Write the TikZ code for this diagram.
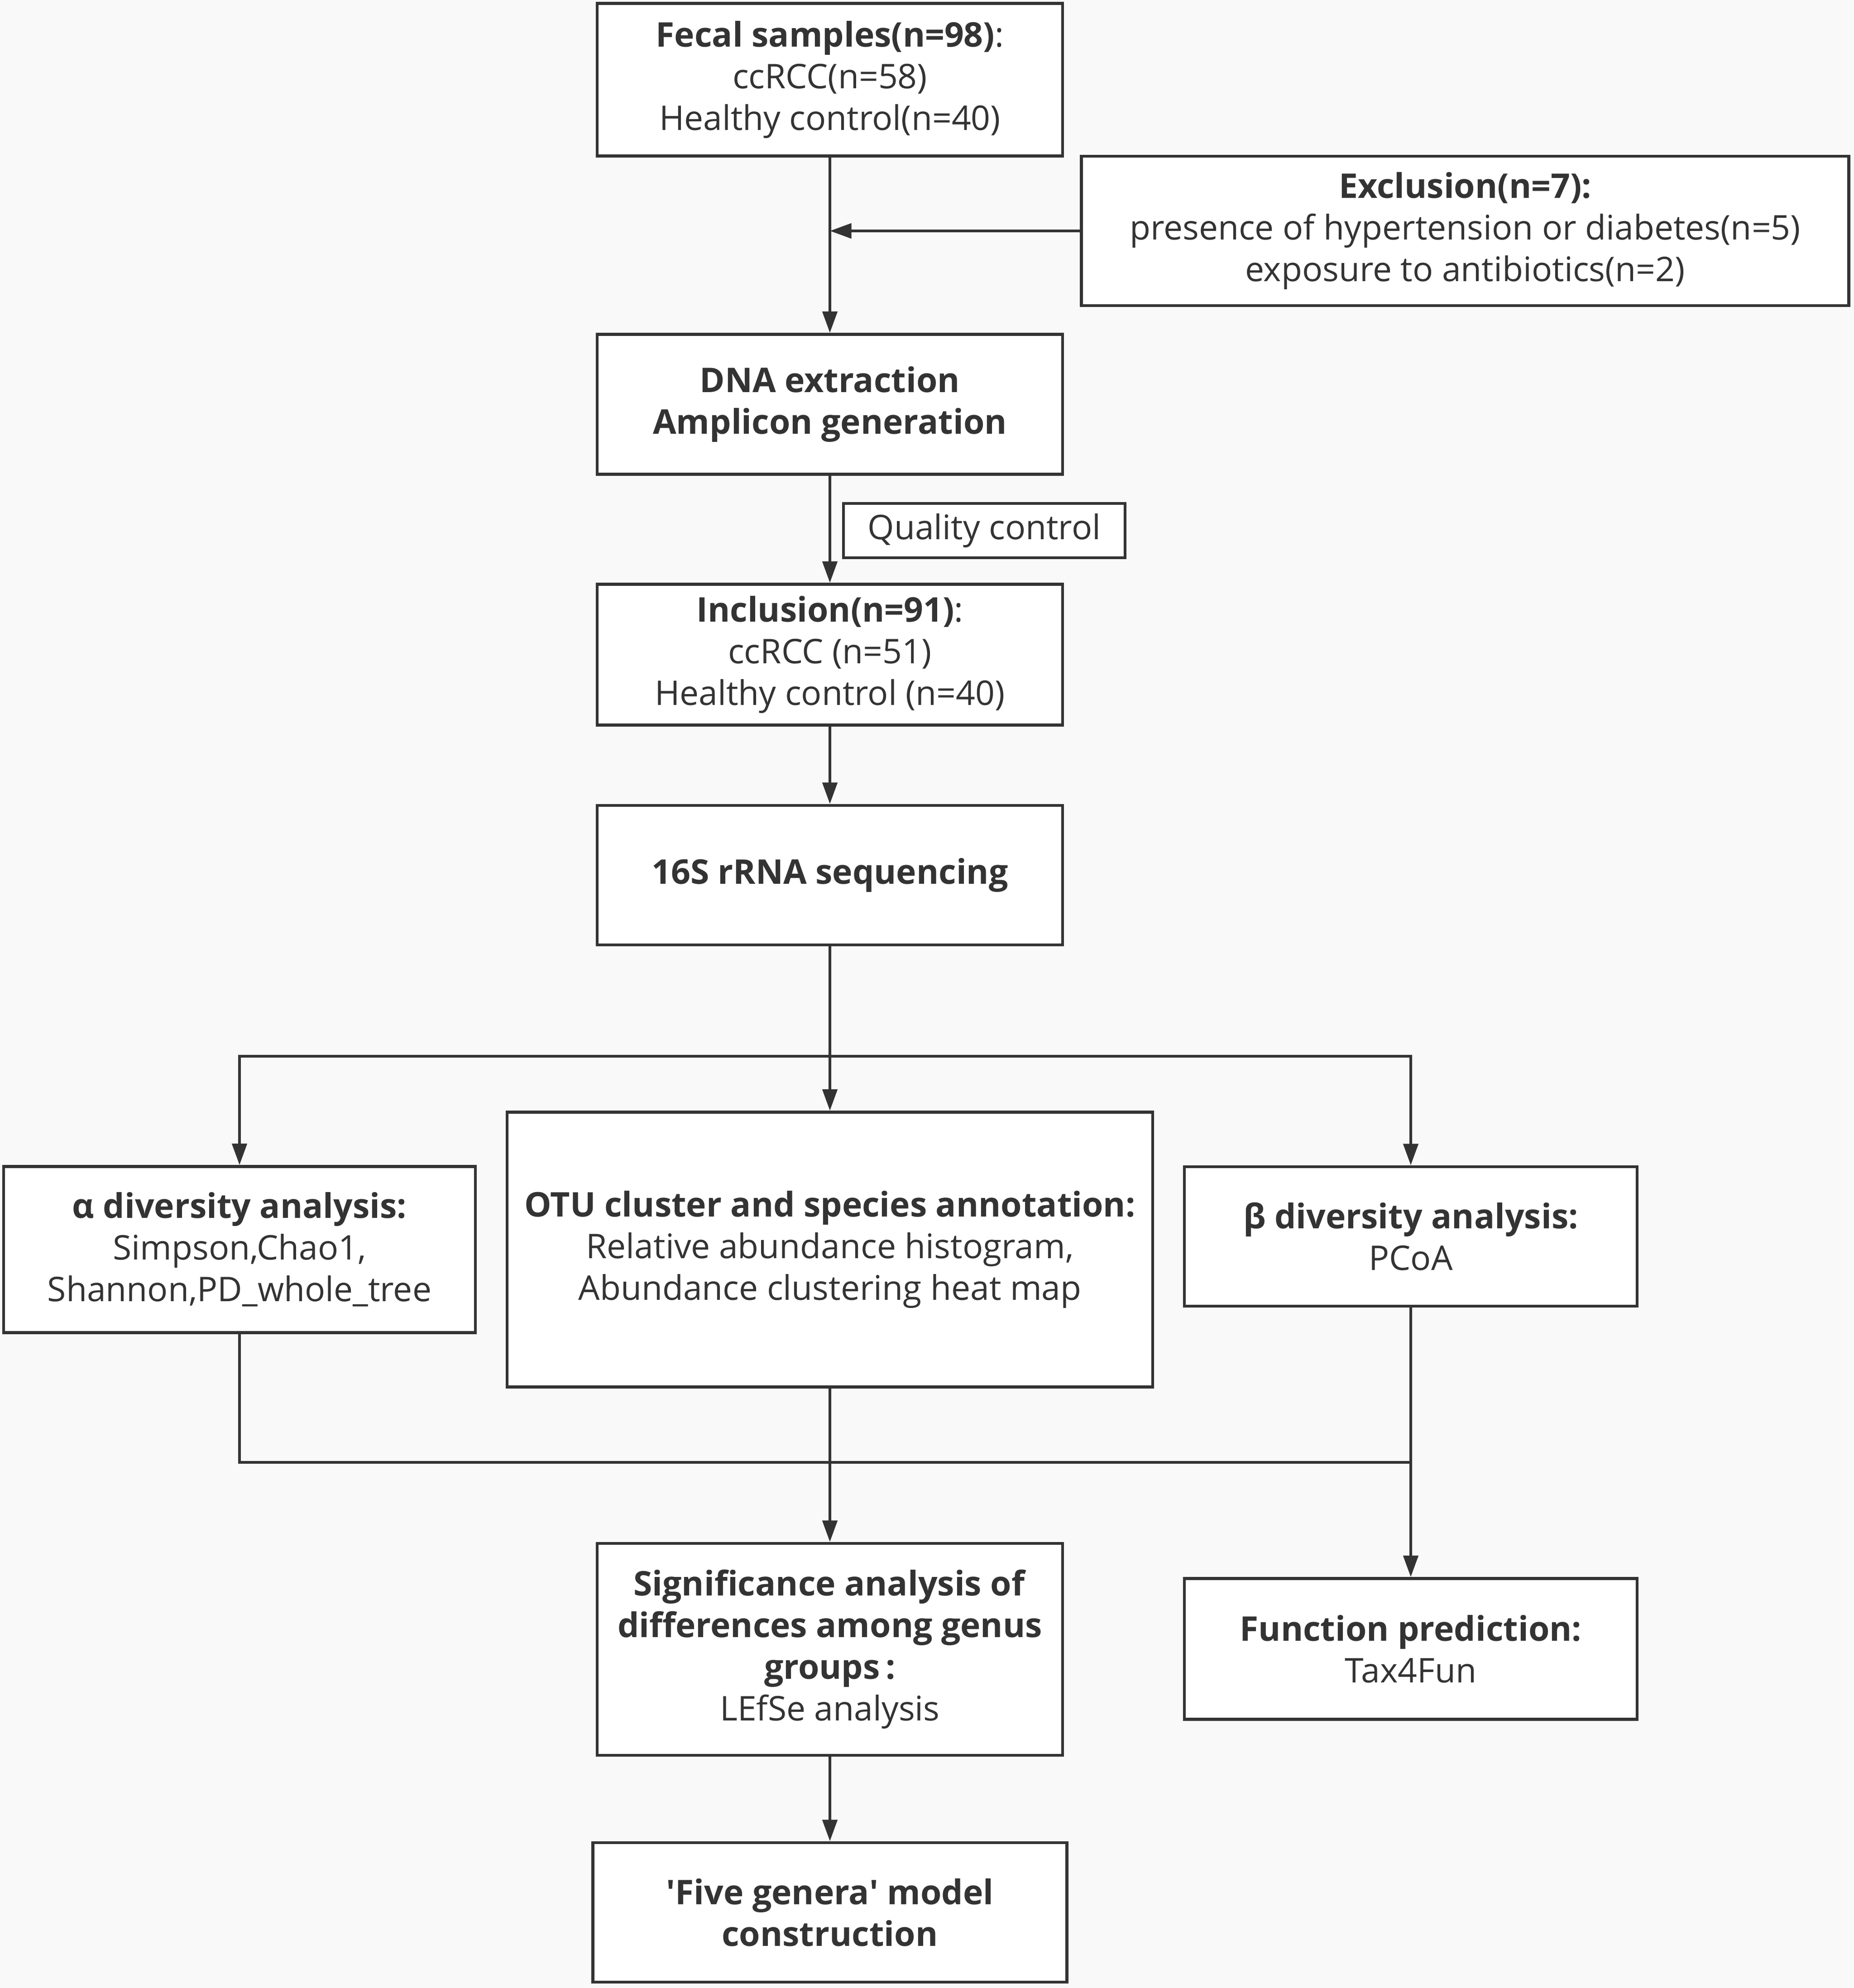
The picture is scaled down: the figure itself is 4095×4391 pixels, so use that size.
\documentclass[tikz,border=0pt]{standalone}
\usepackage{fontspec}
\setmainfont{Open Sans}
\usetikzlibrary{arrows.meta}
\definecolor{ink}{HTML}{333333}
\definecolor{bg}{HTML}{F9F9F9}
\begin{document}
\begin{tikzpicture}[x=0.2pt,y=-0.2pt,
  box/.style={draw=ink, line width=1.3pt, fill=white, text=ink, align=center, inner sep=0pt,
    font=\fontsize{15}{18.4}\selectfont},
  conn/.style={draw=ink, line width=1.3pt},
  arr/.style={conn, -{Triangle[length=9.5pt,width=6.5pt]}}]
\fill[bg] (0,0) rectangle (4095,4391);
\useasboundingbox (0,0) rectangle (4095,4391);

\node[box, minimum width=205.6pt, minimum height=67.4pt] (fecal) at (1833,176)
  {\textbf{Fecal samples(n=98)}:\\ccRCC(n=58)\\Healthy control(n=40)};
\node[box, minimum width=339pt, minimum height=66pt] (excl) at (3236,510)
  {\textbf{Exclusion(n=7):}\\presence of hypertension or diabetes(n=5)\\exposure to antibiotics(n=2)};
\node[box, minimum width=205.6pt, minimum height=61.8pt] (dna) at (1833,893)
  {\textbf{DNA extraction}\\\textbf{Amplicon generation}};
\node[box, minimum width=124.4pt, minimum height=24pt] (qc) at (2174,1172) {Quality control};
\node[box, minimum width=205.6pt, minimum height=62.2pt] (incl) at (1833,1446)
  {\textbf{Inclusion(n=91)}:\\ccRCC (n=51)\\Healthy control (n=40)};
\node[box, minimum width=205.6pt, minimum height=61.6pt] (seq) at (1833,1933)
  {\textbf{16S rRNA sequencing}};
\node[box, minimum width=208.4pt, minimum height=73.4pt] (alpha) at (529,2760)
  {\textbf{α diversity analysis:}\\Simpson,Chao1,\\Shannon,PD\_whole\_tree};
\node[box, minimum width=285.2pt, minimum height=121.4pt] (otu) at (1833,2760)
  {\textbf{OTU cluster and species annotation:}\\Relative abundance histogram,\\Abundance clustering heat map};
\node[box, minimum width=200pt, minimum height=61.6pt] (beta) at (3116,2731)
  {\textbf{β diversity analysis:}\\PCoA};
\node[box, minimum width=205.6pt, minimum height=93.6pt] (sig) at (1833,3643)
  {\textbf{Significance analysis of}\\\textbf{differences among genus}\\\textbf{groups\,:}\\LEfSe analysis};
\node[box, minimum width=200pt, minimum height=62.2pt] (func) at (3116,3642)
  {\textbf{Function prediction:}\\Tax4Fun};
\node[box, minimum width=209.4pt, minimum height=61.6pt] (five) at (1833,4224)
  {\textbf{\textquotesingle Five genera\textquotesingle{} model}\\\textbf{construction}};

\coordinate (j1) at (fecal.south |- excl.west);
\coordinate (bs) at (1833,2333);
\coordinate (m) at (1833,3230);

\draw[arr] (fecal.south) -- (dna.north);
\draw[arr] (excl.west) -- (j1);
\draw[arr] (dna.south) -- (incl.north);
\draw[arr] (incl.south) -- (seq.north);
\draw[conn] (seq.south) -- (bs);
\draw[arr] (bs) -- (otu.north);
\draw[arr] (bs) -| (alpha.north);
\draw[arr] (bs) -| (beta.north);
\draw[conn] (alpha.south) |- (m);
\draw[conn] (m) -- (beta.south |- m);
\draw[conn] (otu.south) -- (m);
\draw[arr] (m) -- (sig.north);
\draw[arr] (beta.south) -- (func.north);
\draw[arr] (sig.south) -- (five.north);
\end{tikzpicture}
\end{document}
